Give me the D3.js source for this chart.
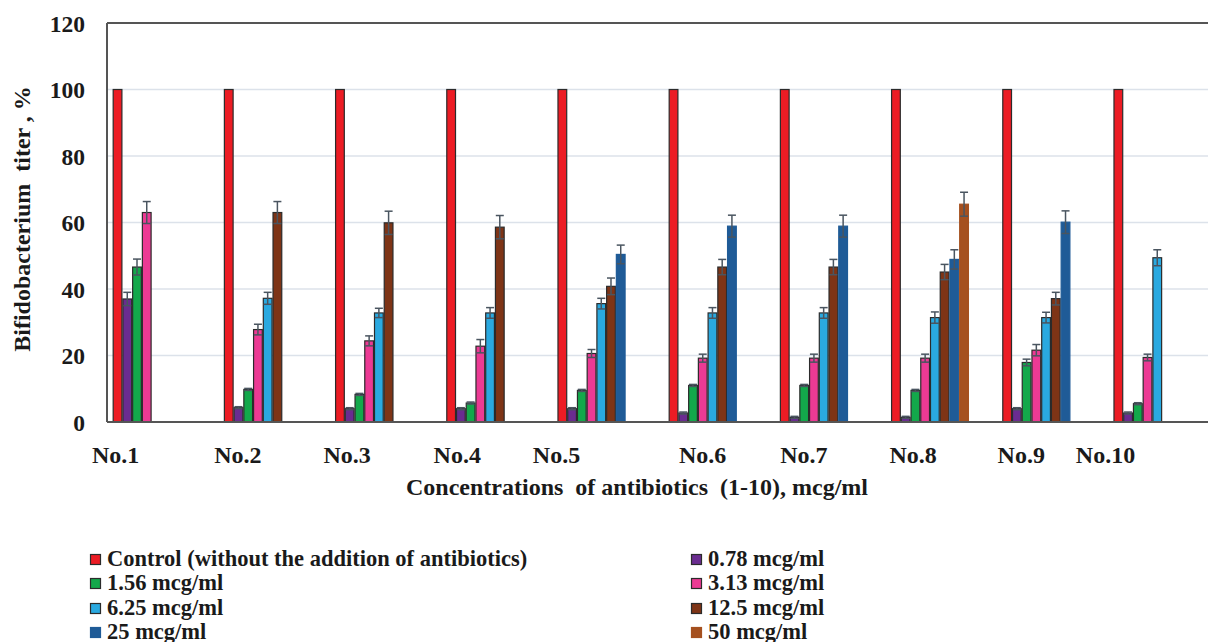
<!DOCTYPE html>
<html>
<head>
<meta charset="utf-8">
<script src="https://cdn.jsdelivr.net/npm/d3@7"></script>
</head>
<body style="margin:0;padding:0;background:#fff">
<svg id="chart" width="1208" height="642" style="display:block"></svg>
<script>
// ---------------- DATA ----------------
const categories = ["No.1", "No.2", "No.3", "No.4", "No.5", "No.6", "No.7", "No.8", "No.9", "No.10"];
const seriesNames = ["Control (without the addition of antibiotics)", "0.78 mcg/ml", "1.56 mcg/ml", "3.13 mcg/ml",
                     "6.25 mcg/ml", "12.5 mcg/ml", "25 mcg/ml", "50 mcg/ml"];
const control = [100, 100, 100, 100, 100, 100, 100, 100, 100, 100];
const c078 = [37.0, 4.3, 4.0, 4.0, 4.0, 2.7, 1.4, 1.4, 4.0, 2.7];
const c156 = [46.6, 9.8, 8.3, 5.7, 9.5, 11.0, 11.0, 9.5, 17.9, 5.5];
const c313 = [63.0, 27.8, 24.4, 22.8, 20.6, 19.2, 19.2, 19.2, 21.6, 19.4];
const c625 = [null, 37.2, 32.8, 32.8, 35.6, 32.8, 32.8, 31.4, 31.4, 49.4];
const c125 = [null, 63.0, 59.9, 58.6, 40.8, 46.6, 46.6, 45.1, 37.1, null];
const c25  = [null, null, null, null, 50.4, 58.9, 58.9, 48.9, 60.1, null];
const c50  = [null, null, null, null, null, null, null, 65.5, null, null];
// error (± deviation)
const e078 = [2.0, 0.3, 0.3, 0.3, 0.3, 0.3, 0.3, 0.3, 0.3, 0.3];
const e156 = [2.4, 0.3, 0.3, 0.3, 0.3, 0.3, 0.3, 0.3, 1.0, 0.3];
const e313 = [3.3, 1.6, 1.5, 2.0, 1.2, 1.2, 1.2, 1.2, 1.7, 1.0];
const e625 = [null, 1.8, 1.4, 1.6, 1.6, 1.6, 1.6, 1.7, 1.6, 2.4];
const e125 = [null, 3.3, 3.5, 3.5, 2.5, 2.3, 2.3, 2.3, 1.9, null];
const e25  = [null, null, null, null, 2.8, 3.3, 3.3, 2.9, 3.4, null];
const e50  = [null, null, null, null, null, null, null, 3.6, null, null];
const yTicks = [0, 20, 40, 60, 80, 100, 120];
const xTitle = "Concentrations\u00A0 of antibiotics\u00A0 (1-10), mcg/ml";
const yTitle = "Bifidobacterium\u00A0 titer , %";

const seriesValues = [control, c078, c156, c313, c625, c125, c25, c50];
const seriesErrors = [null, e078, e156, e313, e625, e125, e25, e50];

// ---------------- STYLE / LAYOUT ----------------
const FONT = '"Liberation Serif"';
const TXT = "#1a1a1a";
const colors = ["#EC1C24", "#6A2C90", "#13A84B", "#EC3A94", "#2AA9E0", "#7E3416", "#1F5B97", "#A5501F"];
const outlined = [true, true, true, true, true, true, false, false];
const labelNudge = [3, 14, 12, 11, -1, 34, 24, 22, 19, -8];

const plot = { left: 107, top: 23, bottom: 422, right: 1208 };
const svg = d3.select("#chart");

function txt(sel, size) {
  return sel.attr("font-family", FONT).attr("font-weight", "bold").attr("font-size", size).attr("fill", TXT);
}

const y = d3.scaleLinear().domain([0, 120]).range([plot.bottom, plot.top]);
const x0 = d3.scaleBand().domain(categories).range([96, 1208]).paddingInner(0.3).paddingOuter(0.15);
const x1 = d3.scaleBand().domain(d3.range(seriesNames.length)).range([0, x0.bandwidth()]);

// gridlines
svg.append("g").selectAll("line").data(yTicks.filter(t => t > 0 && t < 120)).join("line")
  .attr("x1", plot.left).attr("x2", plot.right)
  .attr("y1", d => y(d)).attr("y2", d => y(d))
  .attr("stroke", "#DCE2EA").attr("stroke-width", 1.6);

// top frame
svg.append("line").attr("x1", plot.left).attr("x2", plot.right).attr("y1", y(120)).attr("y2", y(120))
  .attr("stroke", "#555").attr("stroke-width", 2);

// bars
const flat = [];
seriesValues.forEach((vals, s) => {
  vals.forEach((v, i) => {
    if (v !== null) flat.push({ s, i, v, e: seriesErrors[s] ? seriesErrors[s][i] : null });
  });
});

svg.append("g").selectAll("rect").data(flat).join("rect")
  .attr("x", d => x0(categories[d.i]) + x1(d.s) + 0.5)
  .attr("y", d => y(d.v))
  .attr("width", x1.bandwidth() - 1)
  .attr("height", d => y(0) - y(d.v))
  .attr("fill", d => colors[d.s])
  .attr("stroke", d => outlined[d.s] ? "#2b2b2b" : colors[d.s])
  .attr("stroke-width", 1.2);

// error bars
const eg = svg.append("g").attr("stroke", "#4A5560").attr("stroke-width", 1.5);
flat.filter(d => d.e !== null).forEach(d => {
  const cx = x0(categories[d.i]) + x1(d.s) + x1.bandwidth() / 2;
  const yt = y(d.v + d.e), yb = y(d.v - d.e);
  const hw = 4;
  eg.append("line").attr("x1", cx).attr("x2", cx).attr("y1", yt).attr("y2", yb);
  eg.append("line").attr("x1", cx - hw).attr("x2", cx + hw).attr("y1", yt).attr("y2", yt);
  eg.append("line").attr("x1", cx - hw).attr("x2", cx + hw).attr("y1", yb).attr("y2", yb);
});

// axis lines
svg.append("line").attr("x1", plot.left).attr("x2", plot.left).attr("y1", y(120)).attr("y2", y(0))
  .attr("stroke", "#555").attr("stroke-width", 2);
svg.append("line").attr("x1", plot.left).attr("x2", plot.right).attr("y1", y(0)).attr("y2", y(0))
  .attr("stroke", "#555").attr("stroke-width", 2);

// y tick labels
const yAxis = d3.axisLeft(y).tickValues(yTicks).tickSize(0).tickPadding(0);
const yg = svg.append("g").attr("transform", "translate(85,0)").call(yAxis)
  .attr("font-family", FONT).attr("font-size", 23.5);
yg.select(".domain").remove();
txt(yg.selectAll("text"), 23.5).attr("dy", "0.34em");

// x category labels
txt(svg.append("g").selectAll("text").data(categories).join("text"), 24)
  .attr("x", (d, i) => x0(d) + labelNudge[i])
  .attr("y", 462.5)
  .attr("text-anchor", "middle")
  .text(d => d);

// axis titles
txt(svg.append("text"), 24).attr("x", 637).attr("y", 495).attr("text-anchor", "middle").text(xTitle);
txt(svg.append("text"), 24).attr("transform", "translate(30,219) rotate(-90)").attr("text-anchor", "middle").text(yTitle);

// legend
const legendCols = [90, 691];
const legendRows = [566, 590, 615, 639];
const lg = svg.append("g");
seriesNames.forEach((name, s) => {
  const cx = legendCols[s % 2];
  const row = legendRows[Math.floor(s / 2)];
  lg.append("rect").attr("x", cx + 0.5).attr("y", row - 11.5).attr("width", 10).attr("height", 10)
    .attr("fill", colors[s]).attr("stroke", outlined[s] ? "#2b2b2b" : colors[s]).attr("stroke-width", 1.2);
  txt(lg.append("text"), 22.5).attr("x", cx + 17).attr("y", row).text(name);
});
</script>
</body>
</html>
